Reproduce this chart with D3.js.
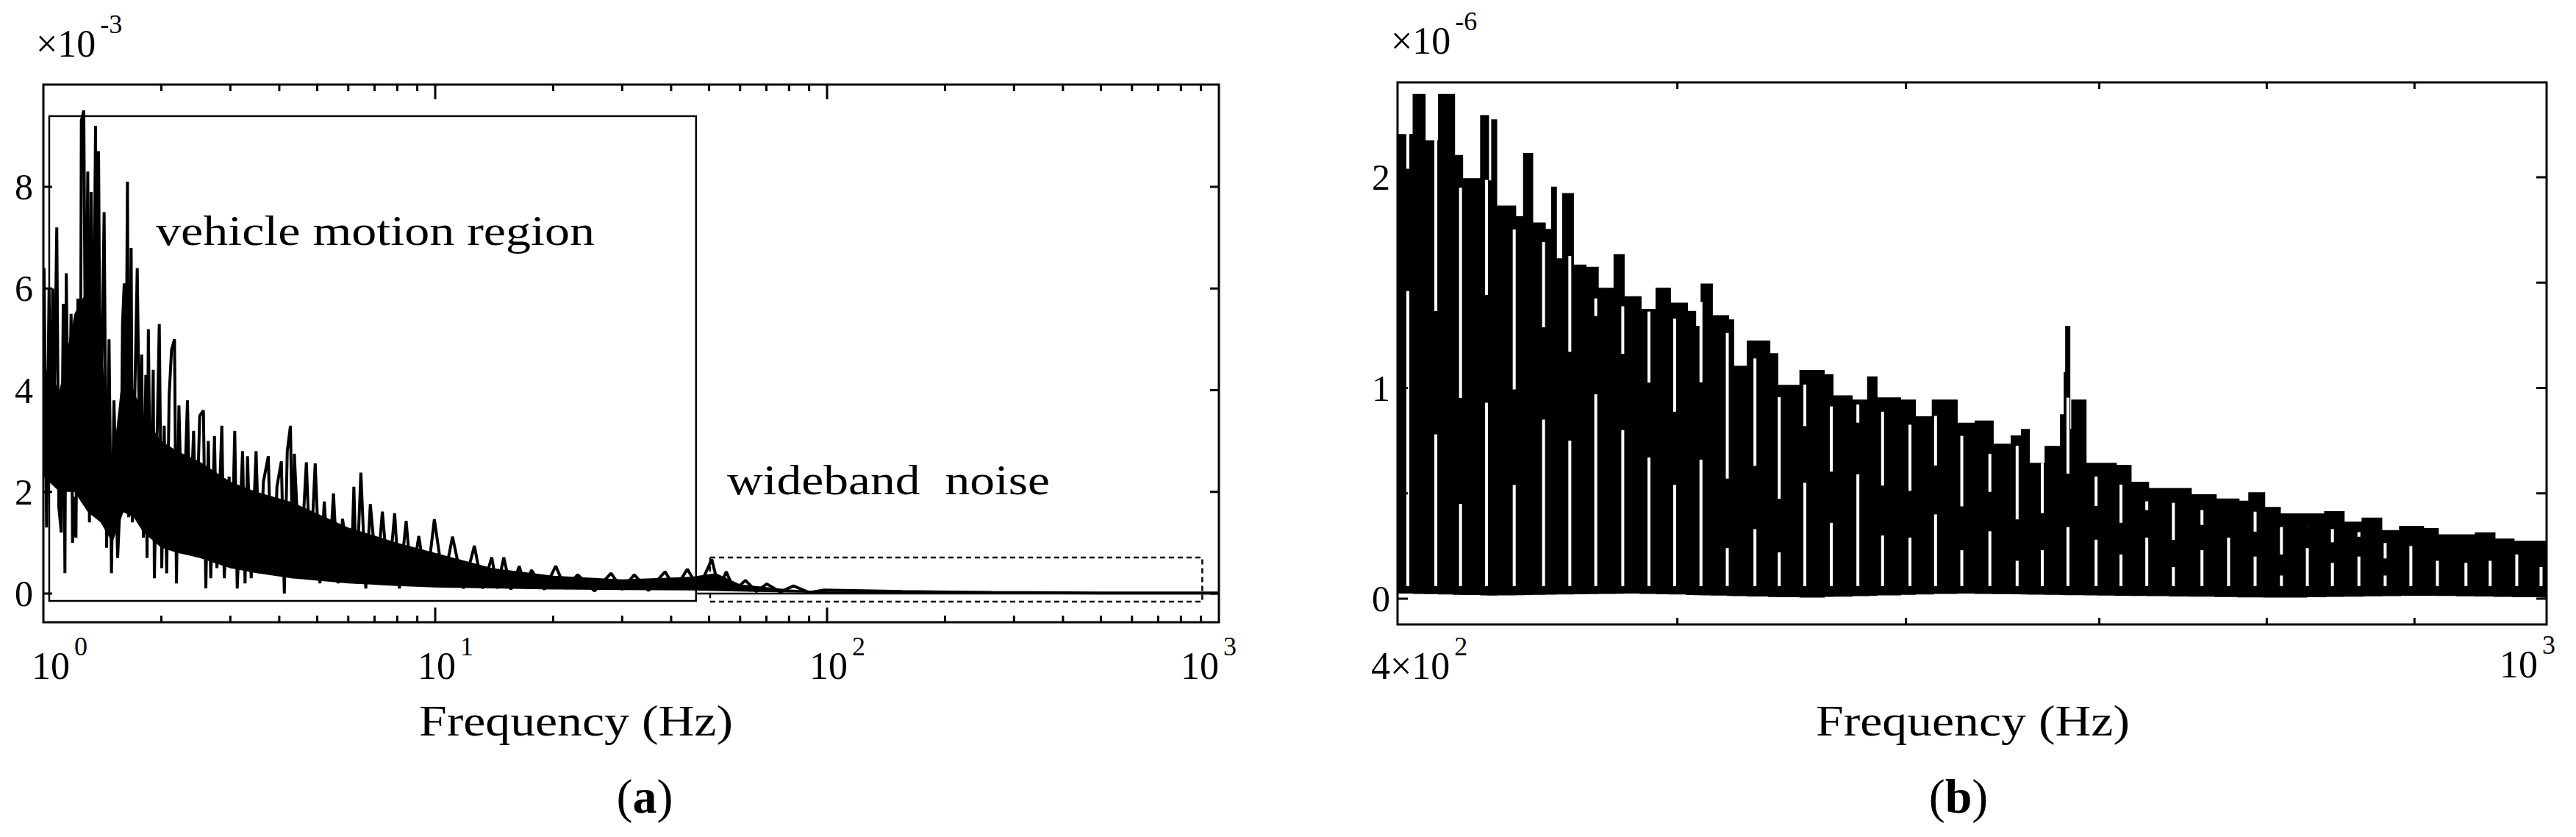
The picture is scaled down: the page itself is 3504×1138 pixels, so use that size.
<!DOCTYPE html>
<html>
<head>
<meta charset="utf-8">
<script src="https://cdnjs.cloudflare.com/ajax/libs/d3/7.8.5/d3.min.js"></script>
<style>
  body { margin: 0; background: #fff; }
  text { font-family: "Liberation Serif", "DejaVu Serif", serif; fill: #000; }
</style>
</head>
<body>
<script>
// panel (a): low-frequency part, peak/trough sequence (x1e-3)
var aHz = [1.004,1.019,1.034,1.044,1.056,1.067,1.082,1.095,1.111,1.124,1.135,1.144,1.160,1.177,1.187,1.202,1.211,1.225,1.243,1.250,
  1.268,1.283,1.298,1.311,1.324,1.339,1.359,1.369,1.383,1.399,1.429,1.450,1.471,1.492,1.514,1.547,1.580,1.592,1.608,1.620,
  1.639,1.651,1.675,1.687,1.736,1.762,1.782,1.800,1.826,1.839,1.853,1.879,1.907,1.920,1.976,2.005,2.034,2.064,2.094,2.124,
  2.161,2.186,2.218,2.266,2.332,2.366,2.418,2.453,2.506,2.561,2.598,2.636,2.674,2.733,2.773,2.854,2.895,2.979,3.022,3.079,
  3.124,3.224,3.271,3.319,3.391,3.490,3.566,3.644,3.750,3.805,3.888,3.945,4.049,4.120,4.192,4.271,4.333];
var aVal = [6.4,1.3,6.0,2.3,6.0,3.9,7.2,1.7,1.2,5.7,0.4,6.3,2.5,5.5,1.0,1.9,1.1,5.8,2.8,9.3,
  9.5,3.3,8.3,1.4,7.9,3.7,9.2,1.6,8.7,2.6,7.5,0.9,5.0,0.4,3.8,0.7,2.3,5.3,6.1,2.0,
  8.1,1.5,6.8,1.4,6.4,2.5,4.7,1.1,4.3,0.7,5.2,1.2,4.4,0.3,5.3,0.5,3.3,0.4,3.9,4.8,
  5.0,0.2,3.7,0.8,3.8,1.3,3.2,0.9,3.5,3.6,0.1,3.0,0.3,3.1,0.5,3.3,0.3,2.3,0.5,3.2,
  0.1,2.8,0.2,2.7,0.3,2.8,0.4,2.2,2.7,0.8,0.4,2.1,2.6,0.0,2.8,3.3,0.3];
// panel (a): peak/trough sequence above 4.3 Hz
var aEnvHz = [4.37,4.52,4.69,4.80,4.94,5.08,5.21,5.35,5.50,5.65,5.80,6.1,6.2,6.3,6.46,6.65,6.83,7.1,7.33,7.6,
  7.88,8.1,8.43,8.7,9.08,9.5,9.95,10.5,11.07,11.8,12.59,13.2,13.94,14.4,14.96,15.6,16.39,17.0,17.6,19.0,
  20.3,21.5,23.1,25.5,28.1,30,32.2,35,38.6,41,44.0,47,50.8,53,55.3,58,61.9,66,70.2,76,
  82.1,90,98.3,156,263,500,1000];
var aEnvVal = [2.75,0.3,2.58,0.5,2.56,0.2,1.81,0.4,1.97,0.2,1.47,0.3,2.1,0.2,2.38,0.1,1.76,0.3,1.61,0.2,
  1.58,0.1,1.43,0.2,1.13,0.15,1.46,0.2,1.12,0.1,0.94,0.1,0.71,0.1,0.71,0.08,0.54,0.1,0.46,0.08,
  0.54,0.1,0.37,0.05,0.40,0.08,0.37,0.06,0.43,0.1,0.48,0.1,0.67,0.1,0.43,0.06,0.26,0.04,0.19,0.03,
  0.15,0.02,0.07,0.04,0.02,0.01,0.01];
// panel (a): solid core of the trace (lower / upper edge)
var aCoreHz = [1.0,1.1,1.2,1.3,1.4,1.5,1.6,1.7,1.8,2.0,2.2,2.5,3.0,3.5,4.3,6,8,10,14,20,30,45,52,60,80,100,1000];
var aCoreLo = [2.3,2.0,2.0,1.6,1.4,1.0,1.6,1.5,1.2,0.9,0.8,0.7,0.5,0.4,0.3,0.2,0.15,0.12,0.1,0.08,0.07,0.06,0.05,0.04,0.02,0.01,0.01];
var aCoreHi = [4.5,4.0,5.5,6.0,5.0,2.5,4.5,4.0,3.5,3.0,2.8,2.6,2.2,2.0,1.8,1.3,1.0,0.8,0.5,0.35,0.28,0.33,0.4,0.18,0.08,0.04,0.02];

// panel (b): upper envelope (x1e-6)
var bHz = [400,405.2,408.7,413.5,418.4,421.1,427.6,429.9,431.4,432.7,439.3,442.5,445.3,449.8,452.5,453.8,456.5,460.0,464.6,469.2,
  475.6,479.0,485.5,491.8,497.0,503.8,507.1,509.8,513.9,520.6,522.7,528.9,538,541.4,551.6,561.8,565.8,574.5,582.2,586,
  597.1,604.2,613,624.7,634.3,642.9,652.8,658.2,661.7,670.7,679,681,681.8,683.4,685.1,692.3,699.7,709.2,717.6,727.7,
  740.6,752.9,768,782.1,789,798.3,808.3,825.4,838.2,850.5,863.6,876.4,889.8,906.1,916.8,930.9,945.2,959.2,973.9,995.9,1000];
var bHi = [2.20,2.39,2.17,2.39,2.10,1.99,2.29,1.98,2.27,1.86,1.81,2.11,1.78,1.75,1.95,1.61,1.92,1.58,1.57,1.47,
  1.63,1.43,1.37,1.47,1.40,1.36,1.29,1.49,1.34,1.32,1.10,1.22,1.16,1.01,1.08,1.06,0.96,0.94,1.05,0.95,
  0.94,0.86,0.94,0.83,0.84,0.73,0.77,0.80,0.64,0.72,0.87,1.07,1.29,0.80,0.94,0.64,0.64,0.63,0.55,0.52,
  0.52,0.49,0.47,0.46,0.50,0.43,0.40,0.40,0.41,0.36,0.38,0.32,0.34,0.33,0.30,0.30,0.31,0.28,0.27,0.27,0.27];
var bLoHz = [400,430,480,550,620,700,800,900,1000];
var bLo = [0.03,0.02,0.03,0.01,0.03,0.02,0.01,0.02,0.01];
// white comb gaps in panel (b): frequency and top of the lower white run
var gapHz = [403.3,412.4,420.6,429.4,439.0,449.4,458.9,468.5,478.7,488.8,498.9,509.5,520.3,531.9,542.3,553.5,565.3,577.4,588.9,601.9,
  614.3,627.3,641.5,655.6,668.9,682.7,698.2,712.2,727.0,742.6,759.7,776.0,792.6,809.4,826.3,843.0,861.0,879.2,897.4,916.6,
  937.7,956.0,976.5,995.6];
var gapTop = [1.46,0.78,0.45,0.93,0.54,0.85,0.75,0.97,0.80,0.67,0.54,0.66,0.24,0.33,0.22,0.55,0.36,0.59,0.30,0.29,
  0.40,0.23,0.32,0.18,0.23,0.34,0.28,0.21,0.29,0.15,0.23,0.29,0.20,0.11,0.24,0.17,0.20,0.11,0.25,0.18,
  0.17,0.18,0.21,0.15];

var aYTicks = [0,2,4,6,8];
var bYLabels = [0,1,2];
var bYTicks = [0,0.5,1,1.5,2];
var aMinor = [2,3,4,5,6,7,8,9,20,30,40,50,60,70,80,90,200,300,400,500,600,700,800,900];
var aMajor = [10,100];
var bMinor = [500,600,700,800,900];

var W = 3504, H = 1138;
var svg = d3.select("body").append("svg").attr("width", W).attr("height", H);

// ---------- panel (a) ----------
var xa = d3.scaleLog().domain([1, 1000]).range([59, 1658]);
var ya = d3.scaleLinear().domain([0, 8]).range([807, 254]);
var aTop = 115, aBot = 846;

svg.append("clipPath").attr("id", "clipA").append("rect")
  .attr("x", 59).attr("y", aTop).attr("width", 1599).attr("height", aBot - aTop);

var ga = svg.append("g").attr("clip-path", "url(#clipA)");
ga.append("path")
  .attr("d", d3.area()
    .x(function(d, i){ return xa(aCoreHz[i]); })
    .y0(function(d){ return ya(d); })
    .y1(function(d, i){ return ya(aCoreHi[i]); })(aCoreLo))
  .attr("fill", "#000");
var allHz = aHz.concat(aEnvHz), allVal = aVal.concat(aEnvVal);
ga.append("path")
  .attr("d", d3.line()
    .x(function(d, i){ return xa(allHz[i]); })
    .y(function(d){ return ya(d); })(allVal))
  .attr("fill", "none").attr("stroke", "#000").attr("stroke-width", 4).attr("stroke-linejoin", "bevel");

// annotation boxes
svg.append("rect")
  .attr("x", xa(1.035)).attr("y", ya(9.39))
  .attr("width", xa(46.3) - xa(1.035)).attr("height", ya(-0.145) - ya(9.39))
  .attr("fill", "none").attr("stroke", "#000").attr("stroke-width", 2.5);
svg.append("line")
  .attr("x1", xa(46.3)).attr("x2", 1658).attr("y1", ya(0)).attr("y2", ya(0))
  .attr("stroke", "#000").attr("stroke-width", 2.5);
svg.append("rect")
  .attr("x", xa(50.3)).attr("y", ya(0.71))
  .attr("width", xa(907) - xa(50.3)).attr("height", ya(-0.16) - ya(0.71))
  .attr("fill", "none").attr("stroke", "#000").attr("stroke-width", 2.5)
  .attr("stroke-dasharray", "7,5");

// frame and ticks
svg.append("rect").attr("x", 59).attr("y", aTop).attr("width", 1599).attr("height", aBot - aTop)
  .attr("fill", "none").attr("stroke", "#000").attr("stroke-width", 3);
function vTicks(scale, vals, x0, x1, len) {
  vals.forEach(function(v){
    svg.append("line").attr("x1", x0).attr("x2", x0 + len).attr("y1", scale(v)).attr("y2", scale(v))
      .attr("stroke", "#000").attr("stroke-width", 3);
    svg.append("line").attr("x1", x1).attr("x2", x1 - len).attr("y1", scale(v)).attr("y2", scale(v))
      .attr("stroke", "#000").attr("stroke-width", 3);
  });
}
function hTicks(scale, vals, y0, y1, len) {
  vals.forEach(function(v){
    svg.append("line").attr("x1", scale(v)).attr("x2", scale(v)).attr("y1", y1).attr("y2", y1 - len)
      .attr("stroke", "#000").attr("stroke-width", 3);
    svg.append("line").attr("x1", scale(v)).attr("x2", scale(v)).attr("y1", y0).attr("y2", y0 + len)
      .attr("stroke", "#000").attr("stroke-width", 3);
  });
}
vTicks(ya, aYTicks, 59, 1658, 12);
hTicks(xa, aMinor, aTop, aBot, 9);
hTicks(xa, aMajor, aTop, aBot, 20);

aYTicks.forEach(function(v){
  svg.append("text").attr("x", 45).attr("y", ya(v) + 17).attr("text-anchor", "end")
    .attr("font-size", 50).text(v);
});

function powLabel(x, y, base, sup, anchor) {
  var t = svg.append("text").attr("x", x).attr("y", y).attr("font-size", 52).attr("text-anchor", anchor || "middle");
  t.append("tspan").text(base);
  t.append("tspan").attr("dy", -32).attr("dx", 6).attr("font-size", 36).text(sup);
  return t;
}
powLabel(xa(1) + 22, 923, "10", "0");
powLabel(xa(10) + 14, 923, "10", "1");
powLabel(xa(100) + 14, 923, "10", "2");
powLabel(xa(1000) - 14, 923, "10", "3");
powLabel(49, 77, "\u00d710", "-3", "start");

svg.append("text").attr("x", 570).attr("y", 1000).attr("font-size", 60)
  .attr("textLength", 427).attr("lengthAdjust", "spacingAndGlyphs").text("Frequency (Hz)");
svg.append("text").attr("x", 212).attr("y", 333).attr("font-size", 58)
  .attr("textLength", 597).attr("lengthAdjust", "spacingAndGlyphs").text("vehicle motion region");
svg.append("text").attr("x", 989).attr("y", 672).attr("font-size", 58)
  .attr("textLength", 439).attr("lengthAdjust", "spacingAndGlyphs").attr("xml:space", "preserve")
  .text("wideband  noise");
var la = svg.append("text").attr("x", 877).attr("y", 1105).attr("font-size", 66).attr("text-anchor", "middle");
la.append("tspan").text("(");
la.append("tspan").attr("font-weight", "bold").text("a");
la.append("tspan").text(")");

// ---------- panel (b) ----------
var xb = d3.scaleLog().domain([400, 1000]).range([1901, 3464]);
var yb = d3.scaleLinear().domain([0, 2]).range([814, 241]);
var bTop = 112, bBot = 849;

svg.append("clipPath").attr("id", "clipB").append("rect")
  .attr("x", 1901).attr("y", bTop).attr("width", 1563).attr("height", bBot - bTop);
var gb = svg.append("g").attr("clip-path", "url(#clipB)");
var loAt = d3.scaleLog().domain(bLoHz).range(bLo);
var hiAt = d3.scaleLog().domain(bHz).range(bHi);
gb.append("path")
  .attr("d", d3.area().curve(d3.curveStepAfter)
    .x(function(d, i){ return xb(bHz[i]); })
    .y0(function(d, i){ return yb(loAt(bHz[i])); })
    .y1(function(d){ return yb(d); })(bHi))
  .attr("fill", "#000").attr("stroke", "#000").attr("stroke-width", 3);
// lower white run of each gap
gb.selectAll(".gapLo").data(gapHz).enter().append("rect")
  .attr("class", "gapLo")
  .attr("x", function(d){ return xb(d) - 2; })
  .attr("width", 4)
  .attr("y", function(d, i){ return yb(gapTop[i]); })
  .attr("height", function(d, i){ return yb(0.06) - yb(gapTop[i]); })
  .attr("fill", "#fff");
// upper white run, above a short black break, up to just below the envelope
gb.selectAll(".gapHi").data(gapHz).enter().append("rect")
  .attr("class", "gapHi")
  .attr("x", function(d){ return xb(d) - 2; })
  .attr("width", 4)
  .attr("y", function(d){ return yb(hiAt(d) - 0.06); })
  .attr("height", function(d, i){
    var h = yb(gapTop[i] + 0.25 * hiAt(d)) - yb(hiAt(d) - 0.06);
    return Math.max(0, h);
  })
  .attr("fill", "#fff");

svg.append("rect").attr("x", 1901).attr("y", bTop).attr("width", 1563).attr("height", bBot - bTop)
  .attr("fill", "none").attr("stroke", "#000").attr("stroke-width", 3);
vTicks(yb, bYTicks, 1901, 3464, 14);
hTicks(xb, bMinor, bTop, bBot, 9);

bYLabels.forEach(function(v){
  svg.append("text").attr("x", 1891).attr("y", yb(v) + 17).attr("text-anchor", "end")
    .attr("font-size", 50).text(v);
});
powLabel(1865, 923, "4\u00d710", "2", "start");
powLabel(3400, 921, "10", "3", "start");
powLabel(1892, 73, "\u00d710", "-6", "start");
svg.append("text").attr("x", 2470).attr("y", 1000).attr("font-size", 60)
  .attr("textLength", 427).attr("lengthAdjust", "spacingAndGlyphs").text("Frequency (Hz)");
var lb = svg.append("text").attr("x", 2664).attr("y", 1105).attr("font-size", 66).attr("text-anchor", "middle");
lb.append("tspan").text("(");
lb.append("tspan").attr("font-weight", "bold").text("b");
lb.append("tspan").text(")");
</script>
</body>
</html>
